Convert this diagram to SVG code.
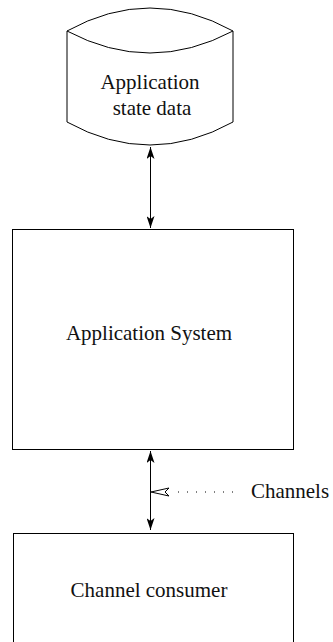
<svg xmlns="http://www.w3.org/2000/svg" width="333" height="642" viewBox="0 0 333 642">
  <style>
    .shape { fill: #ffffff; stroke: #000000; stroke-width: 1; }
    .label { font-family: "Liberation Serif", "Times New Roman", serif; font-size: 21px; fill: #111111; text-anchor: middle; }
    .conn { stroke: #000000; stroke-width: 1; fill: none; }
    .dots { stroke: #000000; stroke-width: 1; stroke-dasharray: 1 8; fill: none; }
  </style>
  <defs>
    <marker id="head" viewBox="0 0 12 8" refX="12" refY="4" markerWidth="12" markerHeight="8" markerUnits="userSpaceOnUse" orient="auto-start-reverse">
      <path d="M0,0 L12,4 L0,8 L3,4 Z" fill="#000000"/>
    </marker>
    <marker id="openhead" viewBox="0 0 18 10" refX="18" refY="5" markerWidth="18" markerHeight="10" markerUnits="userSpaceOnUse" orient="auto">
      <path d="M0,1 L18,5 L0,9 L4,5 Z" fill="#ffffff" stroke="#000000" stroke-width="1"/>
    </marker>
  </defs>

  <!-- data store: cylinder -->
  <g id="state-data">
    <path class="shape" d="M67,31 Q150,-15 233,31 L233,122 Q150,168 67,122 Z"/>
    <path class="conn" d="M67,31 Q150,75 233,31"/>
    <text class="label" x="150" y="89">Application</text>
    <text class="label" x="152" y="115">state data</text>
  </g>

  <g id="application-system">
    <rect class="shape" x="12.5" y="229.5" width="281" height="220"/>
    <text class="label" x="149" y="340">Application System</text>
  </g>

  <g id="channel-consumer">
    <rect class="shape" x="13.5" y="533.5" width="280" height="120"/>
    <text class="label" x="149" y="597">Channel consumer</text>
  </g>

  <g id="channels-label">
    <text class="label" x="290" y="498">Channels</text>
  </g>

  <g id="connectors">
    <line class="conn" x1="150.5" y1="147" x2="150.5" y2="228" marker-start="url(#head)" marker-end="url(#head)"/>
    <line class="conn" x1="150.5" y1="451" x2="150.5" y2="530" marker-start="url(#head)" marker-end="url(#head)"/>
    <line class="dots" x1="233" y1="492" x2="170" y2="492"/>
    <!-- open arrowhead of the dotted channel feed -->
    <line class="conn" x1="170" y1="492" x2="151" y2="492" marker-end="url(#openhead)" stroke-opacity="0"/>
  </g>
</svg>
